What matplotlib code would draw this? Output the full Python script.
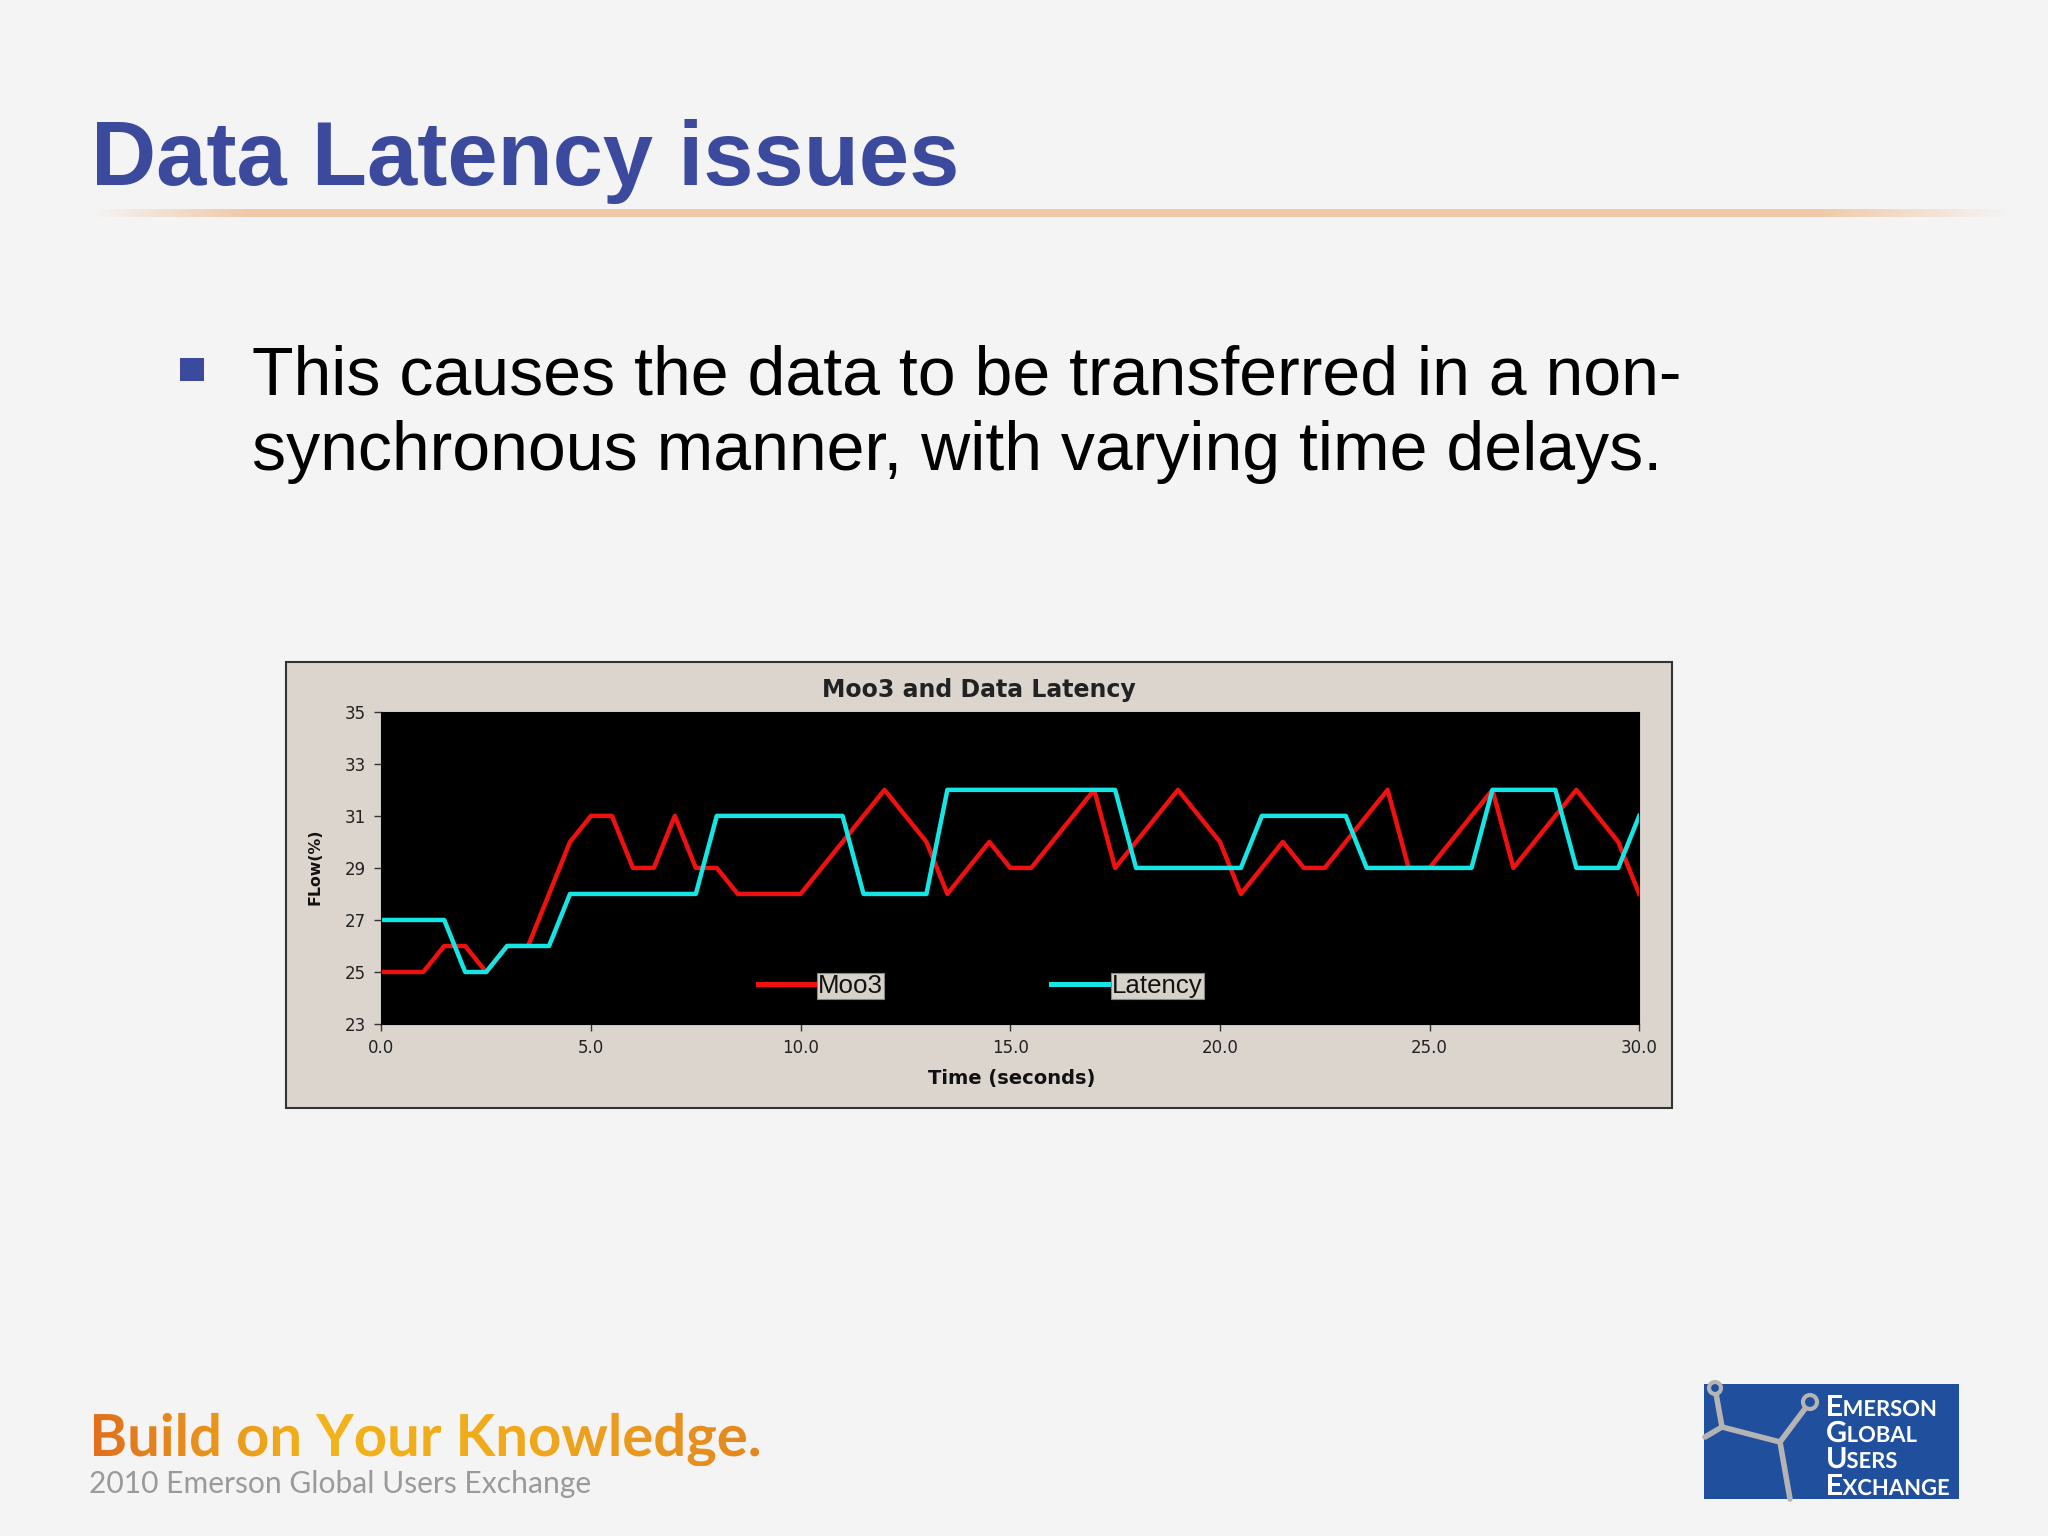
import numpy as np
import matplotlib
matplotlib.use('Agg')
from matplotlib import pyplot as plt
from matplotlib.patches import Rectangle, PathPatch, Circle
from matplotlib.textpath import TextPath
from matplotlib.font_manager import FontProperties
from matplotlib.colors import LinearSegmentedColormap
from matplotlib.lines import Line2D

# data (time in seconds, flow in %)
moo3_t = [0, 1, 1.5, 2, 2.5, 3, 3.5, 4.5, 5, 5.5, 6, 6.5, 7, 7.5, 8, 8.5, 10, 12, 13, 13.5,
          14, 14.5, 15, 15.5, 17, 17.5, 19, 20, 20.5, 21.5, 22, 22.5, 24, 24.5, 25, 26.5,
          27, 28.5, 29.5, 30]
moo3_v = [25, 25, 26, 26, 25, 26, 26, 30, 31, 31, 29, 29, 31, 29, 29, 28, 28, 32, 30, 28,
          29, 30, 29, 29, 32, 29, 32, 30, 28, 30, 29, 29, 32, 29, 29, 32,
          29, 32, 30, 28]

lat_t = [0, 1.5, 2, 2.5, 3, 4, 4.5, 7.5, 8, 11, 11.5, 13, 13.5, 17.5, 18, 20.5, 21, 23,
         23.5, 26, 26.5, 28, 28.5, 29.5, 30]
lat_v = [27, 27, 25, 25, 26, 26, 28, 28, 31, 31, 28, 28, 32, 32, 29, 29, 31, 31,
         29, 29, 32, 32, 29, 29, 31]

x_ticks = [0, 5, 10, 15, 20, 25, 30]
y_ticks = [23, 25, 27, 29, 31, 33, 35]

BLUE = '#3b4a9c'
RED = '#f01010'
CYAN = '#14e6e6'

fig = plt.figure(figsize=(20.48, 15.36), dpi=100, facecolor='#f4f4f4')

# background layer in pixel units
bg = fig.add_axes([0, 0, 1, 1], zorder=-2)
bg.set_xlim(0, 2048)
bg.set_ylim(0, 1536)
bg.axis('off')

# slide title + rule
fig.text(0.0446, 0.8793, 'Data Latency issues', fontsize=65, fontweight='bold',
         color=BLUE, family=['Liberation Sans', 'DejaVu Sans'], va='baseline')
rule = np.zeros((1, 400, 4))
rule[..., :3] = np.array([240, 196, 160]) / 255
xs = np.linspace(0, 1, 400)
rule[0, :, 3] = np.clip(xs / 0.08, 0, 1) * np.clip((1 - xs) / 0.1, 0, 1) * 0.9
bg.imshow(rule, extent=[91, 2011, 1319, 1327], aspect='auto', zorder=1)

# bullet
fig.patches.append(Rectangle((0.0880, 0.7517), 0.01148, 0.0153, transform=fig.transFigure,
                             facecolor=BLUE, edgecolor='none'))
fig.text(0.1231, 0.7432, 'This causes the data to be transferred in a non-', fontsize=49,
         family=['Liberation Sans', 'DejaVu Sans'], va='baseline', color='black')
fig.text(0.1231, 0.6939, 'synchronous manner, with varying time delays.', fontsize=49,
         family=['Liberation Sans', 'DejaVu Sans'], va='baseline', color='black')

# chart frame (drawn in the background layer so the plot sits on top)
bg.add_patch(Rectangle((0.1397, 0.2789), 0.6766, 0.29, transform=fig.transFigure,
                       facecolor='#dbd5ce', edgecolor='#333333', linewidth=1.5, zorder=1))

ax = fig.add_axes([0.1862, 0.3333, 0.6142, 0.2033], zorder=2)
ax.set_facecolor('black')
ax.plot(moo3_t, moo3_v, color=RED, linewidth=3.2, label='Moo3')
ax.plot(lat_t, lat_v, color=CYAN, linewidth=3.2, label='Latency')
ax.set_xlim(0, 30)
ax.set_ylim(23, 35)
ax.set_xticks(x_ticks)
ax.set_xticklabels(['%.1f' % v for v in x_ticks])
ax.set_yticks(y_ticks)
ax.tick_params(direction='out', length=5, width=1, color='#333333', labelsize=12,
               labelcolor='#222222', pad=6)
for s in ax.spines.values():
    s.set_color('black')

handles = [Line2D([], [], color=RED, linewidth=3.6), Line2D([], [], color=CYAN, linewidth=3.6)]
leg = ax.legend(handles, ['Moo3', 'Latency'], loc='center', bbox_to_anchor=(0.476, 0.121),
                ncol=2, frameon=False, handlelength=2.3, handletextpad=0.05,
                columnspacing=6.5, prop={'family': 'Liberation Sans', 'size': 18.6})
for t in leg.get_texts():
    t.set_color('#111111')
    t.set_bbox(dict(facecolor='#d6d2ca', edgecolor='#888888', pad=0.8, linewidth=0.8))

fig.text(0.478, 0.551, 'Moo3 and Data Latency', fontsize=17, fontweight='bold',
         ha='center', va='center', color='#222222')
fig.text(0.494, 0.2976, 'Time (seconds)', fontsize=14, fontweight='bold',
         ha='center', va='center', color='#111111')
fig.text(0.1537, 0.4354, 'FLow(%)', fontsize=11.3, fontweight='bold', rotation=90,
         ha='center', va='center', color='#111111')

# footer: gradient "Build on Your Knowledge."
fp = FontProperties(family='Lato', weight='bold')
tp = TextPath((89, 80), 'Build on Your Knowledge.', size=58, prop=fp)
patch = PathPatch(tp, facecolor='none', edgecolor='none')
bg.add_patch(patch)
ext = tp.get_extents()
cmap = LinearSegmentedColormap.from_list('bk', ['#e0701e', '#f2b41a', '#f0a81c', '#e3861f'])
im = bg.imshow(np.linspace(0, 1, 256)[None, :], cmap=cmap,
               extent=[ext.x0, ext.x1, ext.y0, ext.y1], aspect='auto', zorder=2)
im.set_clip_path(patch)
fig.text(89 / 2048, 43 / 1536, '2010 Emerson Global Users Exchange', fontsize=21.6,
         family=['Lato', 'DejaVu Sans'], color='#9a9a9a', va='baseline')

# logo
bg.add_patch(Rectangle((1704, 37), 255, 115, facecolor='#1f4f9d', edgecolor='none', zorder=2))
mol = '#b4b4b4'
for (x0, y0), (x1, y1) in [((1715, 148), (1722, 109)), ((1722, 109), (1705, 99)),
                           ((1722, 109), (1780, 94)), ((1780, 94), (1810, 134)),
                           ((1780, 94), (1790, 37))]:
    bg.plot([x0, x1], [y0, y1], color=mol, linewidth=4, solid_capstyle='round', zorder=3)
bg.add_patch(Circle((1715, 148), 6, facecolor='#1f4f9d', edgecolor=mol, linewidth=3, zorder=4))
bg.add_patch(Circle((1810, 134), 7, facecolor='#1f4f9d', edgecolor=mol, linewidth=3, zorder=4))
lfp = FontProperties(family='Lato', weight='bold')
for word, yb in [('EMERSON', 120), ('GLOBAL', 94), ('USERS', 68), ('EXCHANGE', 41)]:
    p1 = TextPath((1826, yb), word[0], size=29, prop=lfp)
    x2 = p1.get_extents().x1 + 1
    p2 = TextPath((x2, yb), word[1:], size=22, prop=lfp)
    for p in (p1, p2):
        bg.add_patch(PathPatch(p, facecolor='white', edgecolor='none', zorder=4))

bg.set_xlim(0, 2048)
bg.set_ylim(0, 1536)

fig.savefig('out.png', dpi=100, facecolor=fig.get_facecolor())
